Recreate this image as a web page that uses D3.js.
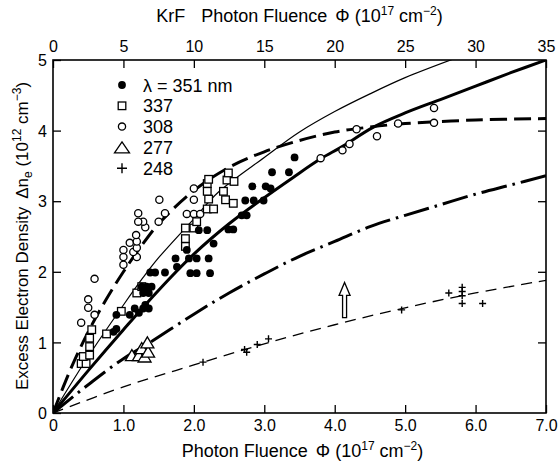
<!DOCTYPE html>
<html><head><meta charset="utf-8">
<script src="https://cdn.jsdelivr.net/npm/d3@7"></script>
<style>
html,body{margin:0;padding:0;background:#fff;}
svg{display:block;font-family:"Liberation Sans",Arial,Helvetica,sans-serif;}
</style></head>
<body>
<svg id="c" width="559" height="465"></svg>
<script>
// ---- data ----
const xTicks = [0,1,2,3,4,5,6,7];
const xTickLabels = ["0","1.0","2.0","3.0","4.0","5.0","6.0","7.0"];
const topTicks = [0,5,10,15,20,25,30,35];
const yTicks = [0,1,2,3,4,5];

const s351 = [[0.86,1.15],[0.90,1.19],[0.90,1.39],[1.09,1.39],[1.16,1.48],[1.22,1.42],[1.28,1.48],[1.36,1.48],[1.31,1.53],
  [1.26,1.79],[1.33,1.79],[1.40,1.79],[1.36,1.70],[1.28,1.70],
  [1.38,1.99],[1.45,1.99],[1.59,1.99],[1.76,2.07],[1.74,2.19],[1.93,2.19],[2.04,2.19],[2.21,2.19],
  [1.95,1.98],[2.04,1.98],[2.23,1.98],[1.90,2.31],
  [2.07,2.59],[2.19,2.59],[2.28,2.40],
  [2.49,2.60],[2.56,2.60],[2.68,2.80],[2.75,2.80],[2.73,3.01],[2.85,3.01],[2.99,3.01],
  [2.83,3.21],[3.02,3.21],[3.09,3.18],[3.11,3.41],[3.35,3.41],[3.43,3.62]];
const s337 = [[0.40,0.70],[0.47,0.70],[0.43,0.80],[0.52,0.82],[0.52,0.94],[0.52,1.06],[0.55,1.18],[0.76,1.12],
  [0.97,1.44],[1.19,1.70],[1.26,1.79],
  [1.88,2.36],[1.88,2.47],[1.88,2.62],[2.0,2.62],[2.04,2.71],
  [2.19,2.89],[2.28,2.89],[2.21,3.03],[2.19,3.14],[2.19,3.25],[2.21,3.31],
  [2.42,3.14],[2.45,3.02],[2.56,2.97],[2.47,3.30],[2.57,3.28],[2.49,3.40]];
const s308 = [[0.40,1.28],[0.59,1.39],[0.50,1.49],[0.50,1.61],[0.59,1.90],
  [1.0,2.10],[1.0,2.21],[1.19,2.21],[1.14,2.28],[1.0,2.31],[1.19,2.34],[1.09,2.41],[1.19,2.43],
  [1.18,2.52],[1.31,2.63],[1.28,2.71],[1.21,2.71],[1.21,2.83],
  [1.50,2.71],[1.59,2.83],[1.51,3.02],
  [1.90,2.82],[2.0,2.82],[2.09,2.82],[2.0,3.02],[2.0,3.18],
  [3.80,3.61],[4.11,3.72],[4.21,3.81],[4.60,3.92],[4.31,4.02],[4.90,4.10],[5.41,4.11],[5.41,4.32]];
const s277 = [[1.12,0.82],[1.22,0.82],[1.30,0.80],[1.26,0.92],[1.35,0.87],[1.34,1.0]];
const s248 = [[2.13,0.72],[2.72,0.90],[2.75,0.86],[2.90,0.97],[3.06,1.05],[4.95,1.46],
  [5.62,1.70],[5.81,1.78],[5.81,1.72],[5.81,1.66],[5.81,1.55],[6.10,1.55]];

const curveThin = [[0,0],[0.5,0.8],[1,1.53],[1.28,1.92],[1.5,2.2],[2,2.75],[2.35,3.13],[3,3.62],[3.5,3.98],[4,4.27],[4.5,4.52],[5,4.75],[5.7,5.02]];
const curveThick = [[0,0],[0.5,0.6],[1,1.18],[1.5,1.74],[2,2.25],[2.5,2.68],[3,3.05],[3.4,3.33],[3.8,3.6],[4.1,3.77],[4.55,4.05],[5,4.25],[5.5,4.44],[6,4.63],[6.5,4.82],[7,5.0]];
const curveDash = [[0,0],[0.25,0.62],[0.5,1.15],[0.75,1.6],[1,2.0],[1.25,2.36],[1.5,2.68],[2,3.15],[2.5,3.48],[3,3.7],[3.5,3.86],[4,3.98],[4.5,4.05],[5,4.1],[6,4.15],[7,4.17]];
const curveDashDot = [[0,0],[0.5,0.4],[1,0.77],[1.38,1.0],[2,1.4],[2.5,1.7],[3,1.97],[3.5,2.22],[4,2.43],[4.5,2.64],[5,2.8],[5.5,2.95],[6,3.1],[6.5,3.23],[7,3.36]];
const curveThinDash = [[0,0],[1,0.37],[2,0.68],[3,0.98],[4,1.25],[5,1.49],[6,1.7],[7,1.88]];
const arrowAt = [4.14, 1.35, 1.85];

const legendItems = [["dot","λ = 351 nm"],["square","337"],["circle","308"],["triangle","277"],["plus","248"]];

// ---- layout ----
const L=53, R=546, T=60, B=413;
const svg = d3.select("#c");
const x = d3.scaleLinear().domain([0,7]).range([L,R]);
const xTop = d3.scaleLinear().domain([0,35]).range([L,R]);
const y = d3.scaleLinear().domain([0,5]).range([B,T]);

svg.append("rect").attr("width",559).attr("height",465).attr("fill","#fff");

const defs = svg.append("defs");
defs.append("clipPath").attr("id","clip").append("rect").attr("x",L).attr("y",T).attr("width",R-L).attr("height",B-T);

// axes (ticks inward)
const fs = 16;
const gB = svg.append("g").attr("transform",`translate(0,${B})`)
  .call(d3.axisBottom(x).tickValues(xTicks).tickSize(-8).tickPadding(7).tickFormat((d,i)=>xTickLabels[i]));
const gT = svg.append("g").attr("transform",`translate(0,${T})`)
  .call(d3.axisTop(xTop).tickValues(topTicks).tickSize(-8).tickPadding(8).tickFormat(d3.format("d")));
const gL = svg.append("g").attr("transform",`translate(${L},0)`)
  .call(d3.axisLeft(y).tickValues(yTicks).tickSize(-8).tickPadding(6).tickFormat(d3.format("d")));
const gR = svg.append("g").attr("transform",`translate(${R},0)`)
  .call(d3.axisRight(y).tickValues([1,2,3,4]).tickSize(-8).tickFormat(""));
[gB,gT,gL,gR].forEach(g=>{
  g.select(".domain").remove();
  g.selectAll(".tick line").attr("stroke","#000").attr("stroke-width",1.3);
  g.selectAll(".tick text").attr("font-size",fs).attr("fill","#000").attr("font-family","'Liberation Sans',Arial,sans-serif");
});
gL.selectAll(".tick text").attr("dy","0.36em");
svg.append("rect").attr("x",L).attr("y",T).attr("width",R-L).attr("height",B-T)
  .attr("fill","none").attr("stroke","#000").attr("stroke-width",1.6);

// curves
const line = d3.line().x(d=>x(d[0])).y(d=>y(d[1])).curve(d3.curveCatmullRom.alpha(0.5));
const cg = svg.append("g").attr("clip-path","url(#clip)").attr("fill","none").attr("stroke","#000");
cg.append("path").attr("d",line(curveThin)).attr("stroke-width",1.2);
cg.append("path").attr("d",line(curveThick)).attr("stroke-width",3);
cg.append("path").attr("d",line(curveDash)).attr("stroke-width",3).attr("stroke-dasharray","17,7");
cg.append("path").attr("d",line(curveDashDot)).attr("stroke-width",3).attr("stroke-dasharray","26,6,2.5,6");
cg.append("path").attr("d",line(curveThinDash)).attr("stroke-width",1.3).attr("stroke-dasharray","11,7");

// markers
function drawMarker(g, type, cx, cy, big){
  if(type==="dot") g.append("circle").attr("cx",cx).attr("cy",cy).attr("r",3.9).attr("fill","#000");
  else if(type==="circle") g.append("circle").attr("cx",cx).attr("cy",cy).attr("r",3.6).attr("fill","#fff").attr("stroke","#000").attr("stroke-width",1.3);
  else if(type==="square") g.append("rect").attr("x",cx-3.8).attr("y",cy-3.8).attr("width",7.6).attr("height",7.6).attr("fill","#fff").attr("stroke","#000").attr("stroke-width",1.3);
  else if(type==="triangle"){ const w=big?7.5:6.5, h=11;
    g.append("path").attr("d",`M${cx},${cy-h/2}L${cx+w},${cy+h/2}L${cx-w},${cy+h/2}Z`).attr("fill","#fff").attr("stroke","#000").attr("stroke-width",1.3);}
  else if(type==="plus"){ const a=big?5:3.5;
    g.append("path").attr("d",`M${cx-a},${cy}H${cx+a}M${cx},${cy-a}V${cy+a}`).attr("stroke","#000").attr("stroke-width",1.4).attr("fill","none");}
}
const mg = svg.append("g");
[[s308,"circle"],[s337,"square"],[s351,"dot"],[s277,"triangle"],[s248,"plus"]].forEach(([arr,t])=>{
  arr.forEach(d=>drawMarker(mg,t,x(d[0]),y(d[1]),false));
});

// arrow
const ax=x(arrowAt[0]), ay0=y(arrowAt[1]), ay1=y(arrowAt[2]);
svg.append("path").attr("d",`M${ax},${ay1}L${ax+5.5},${ay1+13}L${ax+2},${ay1+13}L${ax+2},${ay0}L${ax-2},${ay0}L${ax-2},${ay1+13}L${ax-5.5},${ay1+13}Z`)
  .attr("fill","#fff").attr("stroke","#000").attr("stroke-width",1.3);

// legend
const lg = svg.append("g");
legendItems.forEach((it,i)=>{
  const cy = 85 + i*20.8;
  drawMarker(lg,it[0],122,cy,true);
  lg.append("text").attr("x",143).attr("y",cy+6.5).attr("font-size",18).text(it[1]);
});

// axis titles
function sup(t, s){ t.append("tspan").attr("font-size",12).attr("dy",-7).text(s); }
const tb = svg.append("text").attr("x",(L+R)/2+3).attr("y",457).attr("text-anchor","middle").attr("font-size",18);
tb.append("tspan").text("Photon Fluence");
tb.append("tspan").attr("dx",8).text("Φ (10");
sup(tb,"17");
tb.append("tspan").attr("dy",7).text(" cm");
sup(tb,"−2");
tb.append("tspan").attr("dy",7).text(")");

const tt = svg.append("text").attr("x",(L+R)/2).attr("y",22).attr("text-anchor","middle").attr("font-size",18);
tt.append("tspan").text("KrF");
tt.append("tspan").attr("dx",16).text("Photon Fluence");
tt.append("tspan").attr("dx",8).text("Φ (10");
sup(tt,"17");
tt.append("tspan").attr("dy",7).text(" cm");
sup(tt,"−2");
tt.append("tspan").attr("dy",7).text(")");

const tl = svg.append("text").attr("transform","translate(28,236) rotate(-90)").attr("text-anchor","middle").attr("font-size",17);
tl.append("tspan").text("Excess Electron Density");
tl.append("tspan").attr("dx",8).text("Δn");
tl.append("tspan").attr("font-size",12).attr("dy",4).text("e");
tl.append("tspan").attr("dy",-4).text(" (10");
tl.append("tspan").attr("font-size",12).attr("dy",-7).text("12");
tl.append("tspan").attr("dy",7).text(" cm");
tl.append("tspan").attr("font-size",12).attr("dy",-7).text("−3");
tl.append("tspan").attr("dy",7).text(")");
</script>
</body></html>
